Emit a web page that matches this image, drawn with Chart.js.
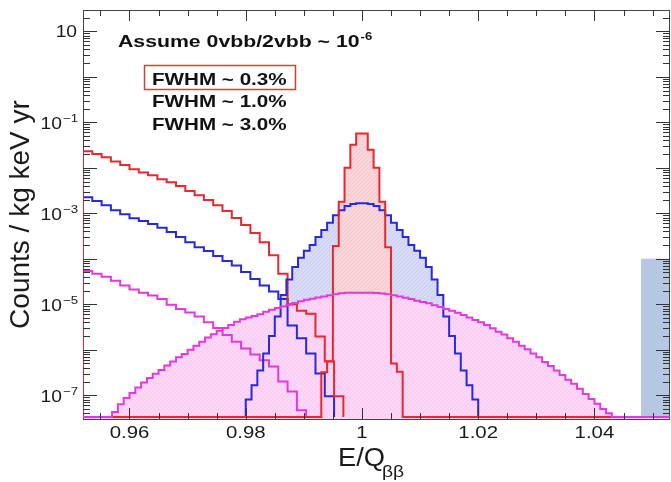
<!DOCTYPE html>
<html>
<head>
<meta charset="utf-8">
<script src="https://cdn.jsdelivr.net/npm/chart.js@4.4.1/dist/chart.umd.min.js"></script>
<style>
  html, body { margin: 0; padding: 0; background: #fff; }
  canvas { display: block; }
</style>
</head>
<body>
<canvas id="spectrum" width="671" height="482"></canvas>
<script>
// axis ranges: E/Q on x, counts / kg keV yr (log) on y
const X_MIN = 0.952;
const X_MAX = 1.053;
const Y_MIN = 3.3e-8;
const Y_MAX = 29.5;

const xTickLabels = [0.96, 0.98, 1, 1.02, 1.04];
const yLabelExponents = [1, -1, -3, -5, -7];

// 2vbb tails, bins of 0.0016 starting at 0.952
const tailStart = 0.952;
const tailBinWidth = 0.0016;
const tailFwhm03 = [
  2.3e-2, 2.0e-2, 1.7e-2, 1.38e-2, 1.15e-2, 9.3e-3, 7.9e-3, 6.9e-3, 5.6e-3, 4.8e-3,
  4.0e-3, 3.1e-3, 2.5e-3, 1.95e-3, 1.5e-3, 1.12e-3, 7.9e-4, 5.5e-4, 3.7e-4, 2.3e-4,
  1.2e-4, 4.7e-5, 1.0e-5, 7.2e-6, 6.2e-6, 1.95e-6, 5.5e-7, 9.5e-8
];
const tailFwhm10 = [
  2.24e-3, 1.86e-3, 1.51e-3, 1.17e-3, 9.5e-4, 7.8e-4, 6.8e-4, 5.8e-4, 4.8e-4, 3.9e-4,
  3.0e-4, 2.3e-4, 1.8e-4, 1.48e-4, 1.15e-4, 8.9e-5, 7.1e-5, 5.1e-5, 3.6e-5, 2.6e-5,
  1.9e-5, 1.3e-5, 3.4e-6, 1.8e-6, 8.3e-7, 3.0e-7, 9.5e-8
];
const tailFwhm30 = [
  5.4e-5, 4.7e-5, 4.0e-5, 3.3e-5, 2.6e-5, 2.1e-5, 1.8e-5, 1.55e-5, 1.3e-5, 9.8e-6,
  7.9e-6, 6.6e-6, 5.4e-6, 4.0e-6, 3.0e-6, 2.1e-6, 1.5e-6, 1.07e-6, 7.9e-7, 5.9e-7,
  4.3e-7, 2.0e-7, 1.2e-7, 4.7e-8
];

// 0vbb peaks, bins of 0.001
const peakBinWidth = 0.001;
const peakStart03 = 0.993;
const peakFwhm03 = [
  3.2e-7, 5.6e-7, 1.9e-4, 1.8e-3, 1.0e-2, 3.2e-2, 5.7e-2, 5.7e-2, 2.5e-2, 1.0e-2,
  1.8e-3, 1.8e-4, 5.0e-7, 3.3e-7
];
const peakStart10 = 0.980;
const peakFwhm10 = [
  8.1e-8, 1.66e-7, 3.5e-7, 8.3e-7, 2.0e-6, 5.4e-6, 1.6e-5, 3.5e-5, 6.6e-5, 1.05e-4,
  1.5e-4, 2.0e-4, 3.0e-4, 4.3e-4, 6.2e-4, 9.1e-4, 1.17e-3, 1.45e-3, 1.6e-3, 1.67e-3,
  1.67e-3, 1.6e-3, 1.45e-3, 1.17e-3, 9.1e-4, 6.2e-4, 4.3e-4, 3.0e-4, 2.0e-4, 1.5e-4,
  1.05e-4, 6.6e-5, 3.5e-5, 1.6e-5, 5.4e-6, 2.0e-6, 8.3e-7, 3.5e-7, 1.66e-7, 8.1e-8
];
const peakStart30 = 0.957;
const peakFwhm30 = [
  4.3e-8, 6.3e-8, 8.7e-8, 1.12e-7, 1.48e-7, 1.9e-7, 2.4e-7, 2.95e-7, 3.6e-7, 4.5e-7,
  5.5e-7, 6.8e-7, 8.1e-7, 1.0e-6, 1.23e-6, 1.5e-6, 1.86e-6, 2.2e-6, 2.6e-6, 3.0e-6,
  3.5e-6, 4.1e-6, 4.7e-6, 5.1e-6, 5.5e-6, 6.0e-6, 6.8e-6, 7.6e-6, 8.3e-6, 8.9e-6,
  9.8e-6, 1.07e-5, 1.17e-5, 1.26e-5, 1.32e-5, 1.41e-5, 1.48e-5, 1.58e-5, 1.66e-5, 1.74e-5,
  1.78e-5, 1.78e-5, 1.78e-5, 1.78e-5, 1.78e-5, 1.76e-5, 1.72e-5, 1.65e-5, 1.57e-5, 1.48e-5,
  1.39e-5, 1.30e-5, 1.20e-5, 1.12e-5, 1.05e-5, 9.5e-6, 8.7e-6, 7.9e-6, 7.2e-6, 6.5e-6,
  5.8e-6, 5.1e-6, 4.5e-6, 4.0e-6, 3.5e-6, 2.95e-6, 2.5e-6, 2.15e-6, 1.8e-6, 1.5e-6,
  1.23e-6, 1.02e-6, 8.3e-7, 6.8e-7, 5.4e-7, 4.4e-7, 3.5e-7, 2.8e-7, 2.2e-7, 1.78e-7,
  1.38e-7, 1.07e-7, 8.3e-8, 6.5e-8, 5.0e-8, 4.0e-8
];

// shaded region on the right
const regionLow = 1.048;
const regionLevel = 1.0e-4;

const RED = '#e8282e';
const BLUE = '#2828dc';
const MAGENTA = '#e238dc';
const FONT = '"Liberation Sans", Arial, Helvetica, sans-serif';

const ctx = document.getElementById('spectrum').getContext('2d');

function hatch(bg, fg) {
    const c = document.createElement('canvas');
    c.width = 4;
    c.height = 4;
    const g = c.getContext('2d');
    g.fillStyle = bg;
    g.fillRect(0, 0, 4, 4);
    g.strokeStyle = fg;
    g.lineWidth = 0.6;
    g.beginPath();
    g.moveTo(0, 4);
    g.lineTo(4, 0);
    g.stroke();
    return ctx.createPattern(c, 'repeat');
}

// bin contents -> outline points (left edge of every bin), empty bins sit on the axis floor
function histogram(start, width, counts, wholeRange) {
    const pts = [];
    if (wholeRange) pts.push({ x: X_MIN, y: Y_MIN });
    pts.push({ x: start, y: Y_MIN });
    counts.forEach((c, i) => pts.push({ x: start + i * width, y: c }));
    pts.push({ x: start + counts.length * width, y: Y_MIN });
    if (wholeRange) pts.push({ x: X_MAX, y: Y_MIN });
    return pts;
}

function text(c, str, x, y, font, align, baseline, sx) {
    c.save();
    c.font = font;
    c.textAlign = align;
    c.textBaseline = baseline;
    c.translate(x, y);
    c.scale(sx, 1);
    c.fillText(str, 0, 0);
    const w = c.measureText(str).width * sx;
    c.restore();
    return w;
}

const frameAndText = {
    id: 'frameAndText',
    beforeDatasetsDraw(chart) {
        const { left, right, top, bottom } = chart.chartArea;
        const c = chart.ctx;
        c.save();
        c.strokeStyle = '#444';
        c.lineWidth = 1;
        c.strokeRect(left + 0.5, top + 0.5, right - left - 1, bottom - top);
        c.restore();
    },
    afterDraw(chart) {
        const { left, right, top, bottom } = chart.chartArea;
        const c = chart.ctx;
        const xs = chart.scales.x;
        const ys = chart.scales.y;

        // inward ticks on all four sides
        c.save();
        c.strokeStyle = '#333';
        c.lineWidth = 1;
        c.beginPath();
        for (let m = 955; m <= 1050; m += 5) {
            const len = m % 20 === 0 ? 11 : 6;
            const px = Math.round(xs.getPixelForValue(m / 1000)) + 0.5;
            c.moveTo(px, bottom);
            c.lineTo(px, bottom - len);
            c.moveTo(px, top);
            c.lineTo(px, top + len);
        }
        for (let e = -8; e <= 1; e++) {
            for (let m = 1; m <= 9; m++) {
                const v = m * Math.pow(10, e);
                if (v < Y_MIN || v > Y_MAX) continue;
                const len = m === 1 ? 14 : 7;
                const py = Math.round(ys.getPixelForValue(v)) + 0.5;
                c.moveTo(left, py);
                c.lineTo(left + len, py);
                c.moveTo(right, py);
                c.lineTo(right - len, py);
            }
        }
        c.stroke();
        c.restore();

        c.save();
        c.fillStyle = '#1a1a1a';
        // x tick labels
        xTickLabels.forEach(v => {
            text(c, String(v), xs.getPixelForValue(v), 433, '17px ' + FONT, 'center', 'middle', 1.2);
        });
        // y tick labels 10^n
        yLabelExponents.forEach(e => {
            const py = ys.getPixelForValue(Math.pow(10, e));
            if (e === 1) {
                text(c, '10', 77, py + 1, '16px ' + FONT, 'right', 'middle', 1.2);
                return;
            }
            const w = text(c, '\u2212' + Math.abs(e), 78, py - 3, '11px ' + FONT, 'right', 'middle', 1.2);
            text(c, '10', 78 - w - 1, py + 2, '16px ' + FONT, 'right', 'middle', 1.2);
        });
        // x axis title E/Q_bb
        const wq = text(c, 'E/Q', 338, 466, '26px ' + FONT, 'left', 'alphabetic', 1.05);
        text(c, '\u03b2\u03b2', 338 + wq - 3, 477, '16px ' + FONT, 'left', 'alphabetic', 1.2);

        // annotations
        c.fillStyle = '#111';
        const wa = text(c, 'Assume 0vbb/2vbb ~ 10', 118, 47, 'bold 17px ' + FONT, 'left', 'alphabetic', 1.25);
        text(c, '-6', 118 + wa + 1, 40, 'bold 11px ' + FONT, 'left', 'alphabetic', 1.2);
        text(c, 'FWHM ~ 0.3%', 152, 85, 'bold 16.5px ' + FONT, 'left', 'alphabetic', 1.25);
        text(c, 'FWHM ~ 1.0%', 152, 107, 'bold 16.5px ' + FONT, 'left', 'alphabetic', 1.25);
        text(c, 'FWHM ~ 3.0%', 152, 130, 'bold 16.5px ' + FONT, 'left', 'alphabetic', 1.25);
        c.strokeStyle = '#d6402c';
        c.lineWidth = 1.5;
        c.strokeRect(144.5, 65.5, 151, 24);
        c.restore();
    }
};

new Chart(ctx, {
    type: 'line',
    data: {
        datasets: [{
            label: 'FWHM ~ 3.0% 0vbb',
            data: histogram(peakStart30, peakBinWidth, peakFwhm30, true),
            borderColor: MAGENTA,
            backgroundColor: hatch('#fcd6f6', '#f6c2ee'),
            fill: 'start',
            order: 0
        }, {
            label: 'FWHM ~ 0.3% 0vbb',
            data: histogram(peakStart03, peakBinWidth, peakFwhm03, true),
            borderColor: RED,
            backgroundColor: hatch('#f9d4d8', '#f1bcc3'),
            fill: 'start',
            order: 1
        }, {
            label: 'FWHM ~ 1.0% 0vbb',
            data: histogram(peakStart10, peakBinWidth, peakFwhm10, true),
            borderColor: BLUE,
            backgroundColor: hatch('#d8dbf6', '#c2c6ee'),
            fill: 'start',
            order: 2
        }, {
            label: 'FWHM ~ 0.3% 2vbb',
            data: histogram(tailStart, tailBinWidth, tailFwhm03, false),
            borderColor: RED,
            fill: false,
            order: 3
        }, {
            label: 'FWHM ~ 1.0% 2vbb',
            data: histogram(tailStart, tailBinWidth, tailFwhm10, false),
            borderColor: BLUE,
            fill: false,
            order: 4
        }, {
            label: 'FWHM ~ 3.0% 2vbb',
            data: histogram(tailStart, tailBinWidth, tailFwhm30, false),
            borderColor: MAGENTA,
            fill: false,
            order: 5
        }, {
            label: 'region',
            data: [
                { x: regionLow, y: Y_MIN },
                { x: regionLow, y: regionLevel },
                { x: X_MAX + 0.002, y: regionLevel }
            ],
            borderWidth: 0,
            borderColor: 'rgba(0,0,0,0)',
            backgroundColor: '#b5c7e2',
            fill: 'start',
            order: 6
        }]
    },
    options: {
        responsive: false,
        animation: false,
        devicePixelRatio: 1,
        layout: { padding: { top: 10, right: 1, left: 0, bottom: 0 } },
        elements: {
            point: { radius: 0 },
            line: { borderWidth: 2, tension: 0, stepped: true }
        },
        scales: {
            x: {
                type: 'linear',
                min: X_MIN,
                max: X_MAX,
                grid: { display: false },
                border: { display: false },
                ticks: { display: false },
                afterFit: s => { s.height = 63; }
            },
            y: {
                type: 'logarithmic',
                min: Y_MIN,
                max: Y_MAX,
                grid: { display: false },
                border: { display: false },
                ticks: { display: false },
                title: {
                    display: true,
                    text: 'Counts / kg keV yr',
                    color: '#1a1a1a',
                    font: { family: FONT, size: 28 },
                    padding: { top: 4, bottom: 0 }
                },
                afterFit: s => { s.width = 83; }
            }
        },
        plugins: {
            legend: { display: false },
            tooltip: { enabled: false },
            filler: { drawTime: 'beforeDatasetsDraw' }
        }
    },
    plugins: [frameAndText]
});
</script>
</body>
</html>
